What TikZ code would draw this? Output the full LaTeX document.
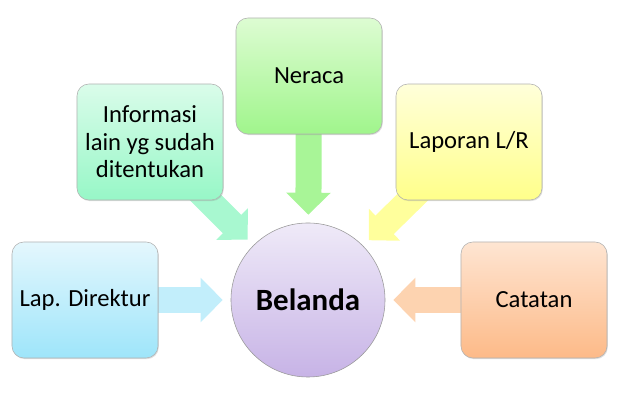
\documentclass[tikz,border=0pt]{standalone}
\usepackage{fontspec}
\setmainfont{Carlito}
\usetikzlibrary{arrows.meta,backgrounds,shadows}
\definecolor{lapTop}{HTML}{E4F7FD}
\definecolor{lapBot}{HTML}{9EE5FA}
\definecolor{infTop}{HTML}{DAFCEA}
\definecolor{infBot}{HTML}{97F7C7}
\definecolor{nerTop}{HTML}{DDFCD2}
\definecolor{nerBot}{HTML}{A0F58C}
\definecolor{labTop}{HTML}{FFFFDA}
\definecolor{labBot}{HTML}{FFFF8A}
\definecolor{catTop}{HTML}{FEE5D2}
\definecolor{catBot}{HTML}{FDBA88}
\definecolor{belTop}{HTML}{EFEAF8}
\definecolor{belBot}{HTML}{C7B3E6}
\definecolor{lapArr}{HTML}{C2EEFB}
\definecolor{infArr}{HTML}{A8F8D0}
\definecolor{nerArr}{HTML}{A8F597}
\definecolor{labArr}{HTML}{FFFF9C}
\definecolor{catArr}{HTML}{FDD3B0}
\begin{document}
\begin{tikzpicture}[x=0.025cm,y=0.025cm,
  infobox/.style={draw=black!30, line width=0.4pt, rounded corners=0.3cm,
    minimum width=3.65cm, minimum height=2.9cm, align=center, font=\fontsize{17.5}{19.5}\selectfont,
    drop shadow={opacity=0.25, shadow xshift=0.6pt, shadow yshift=-0.8pt}},
  bigarrow/.style={line width=0.65cm, -{Triangle[width=1.08cm, length=0.55cm]}, shorten >=0.2cm}]
\useasboundingbox (0,0) rectangle (619,419);
\node[circle, draw=black!40, line width=0.4pt, minimum size=3.85cm, top color=belTop, bottom color=belBot,
  font=\fontsize{22}{26}\selectfont\bfseries] (bel) at (308,119) {Belanda};
\node[infobox, top color=lapTop, bottom color=lapBot] (lap) at (85,119) {Lap. Direktur};
\node[infobox, top color=infTop, bottom color=infBot] (inf) at (150,277) {Informasi\\lain yg sudah\\ditentukan};
\node[infobox, top color=nerTop, bottom color=nerBot] (ner) at (309,343) {Neraca};
\node[infobox, top color=labTop, bottom color=labBot] (lab) at (469,277) {Laporan L/R};
\node[infobox, top color=catTop, bottom color=catBot] (cat) at (534,119) {Catatan};
\begin{scope}[on background layer]
\draw[bigarrow, lapArr] (lap.center) -- (bel);
\draw[bigarrow, infArr] (inf.center) -- (bel);
\draw[bigarrow, nerArr] (ner.center) -- (bel);
\draw[bigarrow, labArr] (lab.center) -- (bel);
\draw[bigarrow, catArr] (cat.center) -- (bel);
\end{scope}
\end{tikzpicture}
\end{document}
